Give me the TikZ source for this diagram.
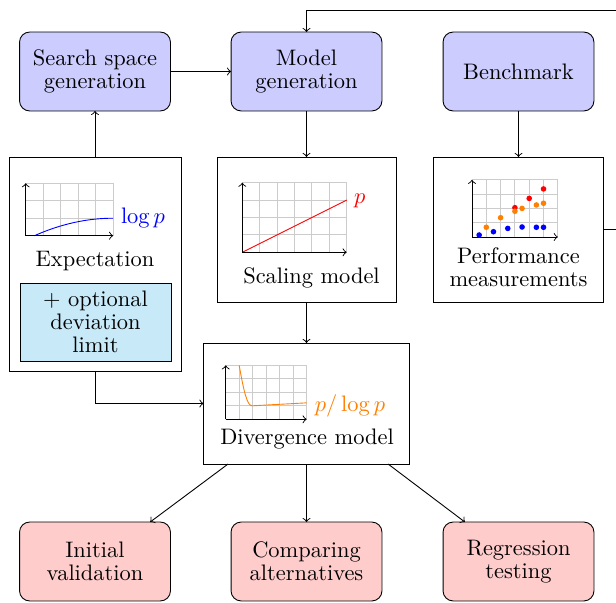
\documentclass[tikz,border=0pt]{standalone}
\usetikzlibrary{calc}
\definecolor{optfill}{RGB}{199,233,248}
\begin{document}
\begin{tikzpicture}[x=0.446pt,y=-0.446pt,
  font=\fontsize{10pt}{10.4pt}\selectfont,
  every node/.style={inner sep=0pt, outer sep=0pt},
  topbox/.style={draw, rounded corners=4.5pt, fill=blue!20, minimum width=67.3pt, minimum height=35.2pt, align=center},
  endbox/.style={topbox, fill=red!20},
  optbox/.style={draw, fill=optfill, minimum width=67.3pt, minimum height=34.8pt, align=center},
  panel/.style={draw, fill=white},
  gridline/.style={gray!40, line width=0.4pt},
  conn/.style={->},
  dot/.style={circle, fill, minimum size=2.5pt}]
\useasboundingbox (0,0) rectangle (616,602);

% top row
\node[topbox] (search) at (95,71.5) {Search space\\generation};
\node[topbox] (model) at (306.5,71.5) {Model\\generation};
\node[topbox] (bench) at (518.5,71.5) {Benchmark};

% panels
\node[panel, minimum width=76.7pt, minimum height=95.4pt] (exp) at (95,264) {};
\node[panel, minimum width=79.8pt, minimum height=64.7pt] (scal) at (306.5,229.5) {};
\node[panel, minimum width=75.8pt, minimum height=64.7pt] (perf) at (518.5,229.5) {};
\node[panel, minimum width=91.9pt, minimum height=54pt] (div) at (306.5,403.5) {};
\node[optbox] (opt) at (95.5,322) {+ optional\\deviation\\limit};

% bottom row
\node[endbox] (b1) at (95,561.5) {Initial\\validation};
\node[endbox] (b2) at (306.5,561.5) {Comparing\\alternatives};
\node[endbox] (b3) at (518.5,561.5) {Regression\\testing};

% panel captions
\node[anchor=base] (exptxt) at (95,266.7) {Expectation};
\node[anchor=base] (scaltxt) at (311.5,283.3) {Scaling model};
\node[anchor=north, align=center] (perftxt) at (518.5,247.8) {Performance\\measurements};
\node[anchor=base] (divtxt) at (307,444) {Divergence model};

% expectation plot
\begin{scope}[shift={(25.7,235.7)}, x=7.8pt, y=7.8pt]
  \foreach \i in {1,...,5} \draw[gridline] (\i,0) -- (\i,3);
  \foreach \j in {1,...,3} \draw[gridline] (0,\j) -- (5,\j);
  \draw[blue] plot[domain=0.5:5, samples=40, smooth] (\x,{1-((5-\x)/4.5)^2});
  \draw[->] (0,0) -- (5,0);
  \draw[->] (0,0) -- (0,3);
  \node[anchor=base west, text=blue] (lbl1) at (5.45,0.71) {$\log p$};
\end{scope}

% scaling plot
\begin{scope}[shift={(242.3,252.3)}, x=7.76pt, y=7.76pt]
  \foreach \i in {1,...,6} \draw[gridline] (\i,0) -- (\i,4);
  \foreach \j in {1,...,4} \draw[gridline] (0,\j) -- (6,\j);
  \draw[red] (0,0) -- (6,3);
  \draw[->] (0,0) -- (6,0);
  \draw[->] (0,0) -- (0,4);
  \node[anchor=base west, text=red] (lbl2) at (6.42,2.82) {$p$};
\end{scope}

% performance plot
\begin{scope}[shift={(472,237)}, x=6.38pt, y=6.38pt]
  \foreach \i in {1,...,6} \draw[gridline] (\i,0) -- (\i,4);
  \foreach \j in {1,...,4} \draw[gridline] (0,\j) -- (6,\j);
  \draw[->] (0,0) -- (6,0);
  \draw[->] (0,0) -- (0,4);
  \foreach[count=\k] \px/\py in {0.5/0.14,1.5/0.37,2.5/0.6,3.5/0.7,4.5/0.68,5/0.68}
    \node[dot, blue] (pb\k) at (\px,\py) {};
  \foreach[count=\k] \px/\py in {3/2.05,4/2.7,5/3.36}
    \node[dot, red] (pr\k) at (\px,\py) {};
  \foreach[count=\k] \px/\py in {1/0.68,2/1.35,3/1.8,3.5/2.0,4.5/2.24,5/2.36}
    \node[dot, orange] (po\k) at (\px,\py) {};
\end{scope}

% divergence plot
\begin{scope}[shift={(225.7,419.3)}, x=6.02pt, y=6.02pt]
  \foreach \i in {1,...,6} \draw[gridline] (\i,0) -- (\i,4);
  \foreach \j in {1,...,4} \draw[gridline] (0,\j) -- (6,\j);
  \draw[orange] (1,4) .. controls (1.35,2.0) and (1.6,1.0) .. (1.95,1.0) -- (6,1.22);
  \draw[->] (0,0) -- (6,0);
  \draw[->] (0,0) -- (0,4);
  \node[anchor=base west, text=orange] (lbl3) at (6.61,0.56) {$p/\log p$};
\end{scope}

% connectors
\coordinate (loopR) at (626,10);
\draw[conn] (search.east) -- (model.west);
\draw[conn] (exp.north) -- (search.south);
\draw[conn] (model.south) -- (scal.north);
\draw[conn] (bench.south) -- (perf.north);
\draw[conn] (scal.south) -- (div.north);
\draw[conn] (exp.south) |- (div.west);
\draw[conn] (perf.east) -| (loopR) -| (model.north);
\draw[conn] ([xshift=-35pt]div.south) -- ([xshift=24.6pt]b1.north);
\draw[conn] (div.south) -- (b2.north);
\draw[conn] ([xshift=36.4pt]div.south) -- ([xshift=-23.9pt]b3.north);
\end{tikzpicture}
\end{document}
